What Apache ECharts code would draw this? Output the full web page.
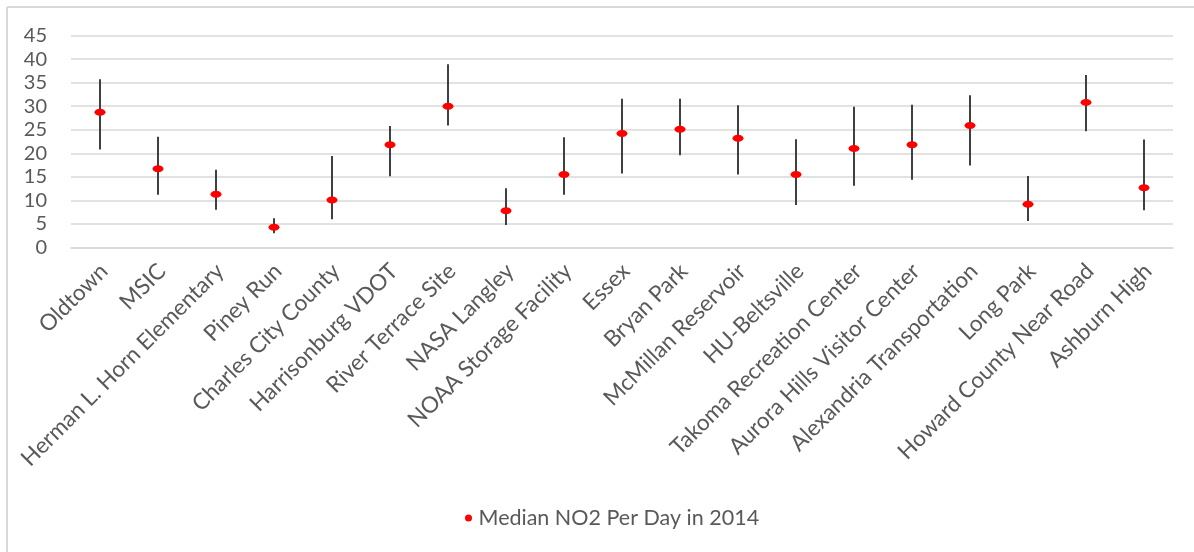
<!DOCTYPE html>
<html>
<head>
<meta charset="utf-8">
<script src="https://cdn.jsdelivr.net/npm/echarts@6/dist/echarts.min.js"></script>
<style>
  html, body { margin: 0; padding: 0; background: #fff; }
  #chart { width: 1194px; height: 552px; }
</style>
</head>
<body>
<div id="chart"></div>
<script>
// Monitoring sites
const sites = [
  'Oldtown', 'MSIC', 'Herman L. Horn Elementary', 'Piney Run', 'Charles City County',
  'Harrisonburg VDOT', 'River Terrace Site', 'NASA Langley', 'NOAA Storage Facility',
  'Essex', 'Bryan Park', 'McMillan Reservoir', 'HU-Beltsville', 'Takoma Recreation Center',
  'Aurora Hills Visitor Center', 'Alexandria Transportation', 'Long Park',
  'Howard County Near Road', 'Ashburn High'
];
// Median daily NO2 (ppb) in 2014
const medians = [28.7, 16.7, 11.3, 4.3, 10.1, 21.8, 30.0, 7.8, 15.5, 24.2, 25.1, 23.2, 15.5, 21.0, 21.8, 25.9, 9.2, 30.8, 12.7];
// Lower and upper ends of the range bars
const lows  = [20.8, 11.2, 8.0, 3.0, 6.0, 15.1, 25.9, 4.8, 11.2, 15.7, 19.6, 15.5, 9.0, 13.1, 14.4, 17.4, 5.6, 24.7, 7.9];
const highs = [35.7, 23.5, 16.5, 6.2, 19.4, 25.8, 38.9, 12.6, 23.4, 31.6, 31.6, 30.2, 23.0, 29.9, 30.3, 32.3, 15.2, 36.6, 22.9];
const yTicks = { min: 0, max: 45, interval: 5 };
const seriesName = 'Median NO2 Per Day in 2014';

const textColor = '#595959';
const gridColor = '#d9d9d9';
const fontFamily = 'Lato, "Open Sans", sans-serif';

const rangeData = sites.map((s, i) => [i, lows[i], highs[i]]);

const chart = echarts.init(document.getElementById('chart'), null, { renderer: 'canvas' });
chart.setOption({
  animation: false,
  backgroundColor: '#fff',
  textStyle: { fontFamily: fontFamily, color: textColor },
  graphic: [
    { type: 'line', shape: { x1: 7, y1: 7, x2: 7, y2: 552 }, style: { stroke: gridColor, lineWidth: 2 }, silent: true },
    { type: 'line', shape: { x1: 7, y1: 7, x2: 1194, y2: 7 }, style: { stroke: gridColor, lineWidth: 2 }, silent: true }
  ],
  grid: [
    // plotting area
    { left: 71, right: 21, top: 35.5, bottom: 304.5, containLabel: false },
    // category label band, nudged right so each rotated name ends just past its tick
    { left: 75, right: 17, top: 35.5, bottom: 304.5, containLabel: false }
  ],
  legend: {
    data: [{ name: seriesName, icon: 'circle' }],
    left: 460,
    top: 502,
    itemWidth: 10,
    itemHeight: 7,
    itemGap: 8,
    textStyle: { fontSize: 21.5, color: textColor, fontFamily: fontFamily }
  },
  xAxis: [
    {
      type: 'category',
      gridIndex: 0,
      data: sites,
      boundaryGap: true,
      axisLine: { show: true, lineStyle: { color: gridColor, width: 1.5 } },
      axisTick: { show: false },
      axisLabel: { show: false },
      splitLine: { show: false }
    },
    {
      type: 'category',
      gridIndex: 1,
      data: sites,
      boundaryGap: true,
      axisLine: { show: false },
      axisTick: { show: false },
      axisLabel: {
        interval: 0,
        rotate: 45,
        margin: 20,
        fontSize: 22.5,
        color: textColor,
        fontFamily: fontFamily
      },
      splitLine: { show: false }
    }
  ],
  yAxis: [
    {
      type: 'value',
      gridIndex: 0,
      min: yTicks.min,
      max: yTicks.max,
      interval: yTicks.interval,
      axisLine: { show: false },
      axisTick: { show: false },
      axisLabel: { margin: 24, fontSize: 20, color: textColor, fontFamily: fontFamily },
      splitLine: { lineStyle: { color: gridColor, width: 1.5 } }
    },
    {
      type: 'value',
      gridIndex: 1,
      min: yTicks.min,
      max: yTicks.max,
      interval: yTicks.interval,
      show: false
    }
  ],
  series: [
    {
      name: 'range',
      type: 'custom',
      xAxisIndex: 0,
      yAxisIndex: 0,
      data: rangeData,
      encode: { x: 0, y: [1, 2] },
      renderItem: function (params, api) {
        const x = api.value(0);
        const p1 = api.coord([x, api.value(1)]);
        const p2 = api.coord([x, api.value(2)]);
        return {
          type: 'line',
          shape: { x1: p1[0], y1: p1[1], x2: p2[0], y2: p2[1] },
          style: { stroke: '#404040', lineWidth: 2 }
        };
      },
      z: 2
    },
    {
      name: seriesName,
      type: 'scatter',
      xAxisIndex: 0,
      yAxisIndex: 0,
      data: medians,
      symbol: 'circle',
      symbolSize: [11, 7],
      itemStyle: { color: '#ff0000', opacity: 1 },
      z: 3
    }
  ]
});
</script>
</body>
</html>
